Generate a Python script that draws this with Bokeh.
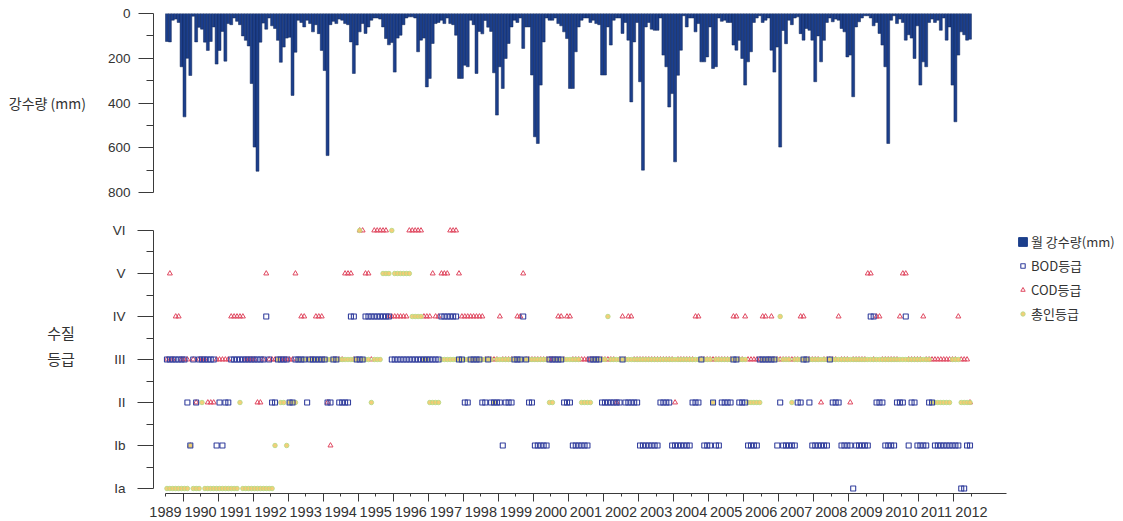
from bokeh.plotting import figure
from bokeh.layouts import column
from bokeh.models import Range1d, FixedTicker, Legend, LegendItem
from bokeh.embed import file_html
from bokeh.resources import INLINE

# ---------------- data ----------------
year_labels = [str(y) for y in range(1989, 2013)]
grade_labels = ["Ia", "Ib", "II", "III", "IV", "V", "VI"]   # levels 1..7

# monthly precipitation (mm), one row per year 1989..2011, Jan..Dec
rain_mm = [
    [125, 127, 30, 25, 40, 238, 462, 200, 277, 12, 127, 62],    # 1989
    [70, 128, 165, 125, 60, 226, 165, 80, 213, 45, 50, 20],     # 1990
    [35, 50, 100, 120, 145, 313, 597, 705, 128, 43, 70, 20],    # 1991
    [55, 67, 120, 218, 150, 110, 106, 366, 173, 30, 40, 60],    # 1992
    [30, 45, 82, 50, 90, 165, 255, 635, 50, 35, 45, 25],        # 1993
    [30, 45, 50, 127, 268, 141, 82, 45, 89, 60, 30, 20],        # 1994
    [20, 25, 60, 112, 140, 130, 262, 110, 97, 50, 20, 15],      # 1995
    [15, 20, 171, 119, 110, 328, 290, 134, 45, 40, 30, 45],     # 1996
    [20, 45, 50, 97, 290, 290, 231, 238, 30, 50, 268, 80],      # 1997
    [91, 31, 61, 80, 265, 454, 238, 335, 201, 134, 60, 30],     # 1998
    [40, 20, 156, 60, 60, 275, 551, 581, 320, 127, 20, 30],     # 1999
    [30, 20, 45, 55, 82, 112, 335, 335, 171, 60, 30, 20],       # 2000
    [20, 40, 30, 45, 50, 275, 275, 60, 141, 30, 20, 20],        # 2001
    [89, 40, 119, 395, 127, 40, 305, 700, 60, 40, 70, 75],      # 2002
    [75, 20, 186, 238, 418, 358, 663, 276, 164, 10, 60, 20],    # 2003
    [20, 82, 45, 216, 216, 194, 60, 246, 238, 20, 35, 30],      # 2004
    [40, 40, 141, 164, 120, 201, 320, 216, 171, 40, 20, 10],    # 2005
    [40, 30, 20, 164, 262, 150, 597, 76, 135, 30, 50, 20],      # 2006
    [15, 90, 119, 67, 75, 119, 305, 100, 216, 120, 40, 20],     # 2007
    [37, 25, 30, 67, 82, 194, 186, 372, 60, 37, 20, 10],        # 2008
    [10, 20, 55, 40, 89, 141, 238, 581, 30, 10, 45, 25],        # 2009
    [40, 119, 95, 110, 201, 55, 320, 216, 238, 40, 25, 40],     # 2010
    [30, 75, 20, 119, 60, 320, 484, 186, 82, 95, 119, 115],     # 2011
]

# water-quality grade level (1=Ia, 2=Ib, 3=II, 4=III, 5=IV, 6=V, 7=VI)
bod_grade = [
    [4, 4, 4, 4, 4, 4, 4, 3, 2, 4, 3, 4],   # 1989
    [4, 4, 4, 4, 4, 2, 3, 2, 3, 3, 4, 4],   # 1990
    [4, 4, 4, 4, 4, 4, 4, 4, 4, 4, 5, 4],   # 1991
    [3, 3, 4, 4, 4, 4, 3, 3, 4, 4, 4, 4],   # 1992
    [3, 4, 4, 4, 4, 4, 4, 3, 3, 4, 4, 3],   # 1993
    [3, 3, 3, 5, 5, 4, 4, 4, 5, 5, 5, 5],   # 1994
    [5, 5, 5, 5, 5, 4, 4, 4, 4, 4, 4, 4],   # 1995
    [4, 4, 4, 4, 4, 4, 4, 4, 4, 4, 5, 5],   # 1996
    [5, 5, 5, 5, 4, 4, 3, 3, 4, 4, 4, 4],   # 1997
    [3, 3, 4, 3, 3, 3, 3, 2, 3, 3, 3, 4],   # 1998
    [4, 4, 5, 4, 3, 3, 2, 2, 2, 2, 2, 4],   # 1999
    [4, 4, 4, 4, 3, 3, 3, 2, 2, 2, 2, 2],   # 2000
    [2, 4, 4, 4, 4, 3, 3, 3, 3, 3, 3, 3],   # 2001
    [4, 3, 3, 3, 3, 3, 2, 2, 2, 2, 2, 2],   # 2002
    [2, 3, 3, 3, 3, 2, 2, 2, 2, 2, 2, 2],   # 2003
    [3, 3, 3, 4, 2, 2, 2, 3, 2, 2, 3, 3],   # 2004
    [3, 3, 4, 4, 3, 3, 3, 2, 2, 2, 2, 4],   # 2005
    [4, 4, 4, 4, 4, 2, 3, 2, 2, 2, 2, 2],   # 2006
    [3, 3, 4, 4, 3, 2, 2, 2, 2, 2, 2, 4],   # 2007
    [3, 3, 3, 2, 2, 2, 2, 1, 2, 2, 2, 2],   # 2008
    [2, 5, 5, 3, 3, 3, 2, 2, 2, 2, 3, 3],   # 2009
    [3, 5, 2, 3, 3, 2, 2, 2, 2, 3, 3, 2],   # 2010
    [2, 2, 2, 2, 2, 2, 2, 2, 1, 1, 2, 2],   # 2011
]

cod_grade = [
    [4, 6, 4, 5, 5, 4, 4, 4, 2, 4, 3, 4],   # 1989
    [4, 4, 3, 3, 3, 4, 4, 4, 4, 4, 5, 5],   # 1990
    [5, 5, 5, 4, 4, 4, 4, 3, 3, 4, 6, 4],   # 1991
    [4, 4, 4, 4, 4, 4, 4, 4, 6, 4, 5, 5],   # 1992
    [4, 4, 4, 5, 5, 5, 4, 3, 2, 4, 4, 4],   # 1993
    [4, 6, 6, 6, 4, 4, 7, 7, 6, 6, 4, 7],   # 1994
    [7, 7, 7, 7, 5, 5, 5, 5, 5, 5, 5, 7],   # 1995
    [7, 7, 7, 7, 5, 5, 5, 6, 5, 5, 6, 6],   # 1996
    [6, 7, 7, 7, 6, 5, 5, 5, 5, 5, 5, 5],   # 1997
    [5, 4, 4, 4, 4, 4, 5, 4, 4, 4, 4, 4],   # 1998
    [5, 5, 6, 4, 4, 4, 4, 4, 4, 4, 4, 4],   # 1999
    [4, 4, 5, 5, 4, 5, 5, 4, 4, 4, 4, 4],   # 2000
    [4, 4, 4, 4, 4, 4, 4, 4, 4, 4, 3, 4],   # 2001
    [5, 4, 5, 5, 4, 4, 4, 4, 4, 4, 4, 4],   # 2002
    [4, 4, 4, 4, 4, 4, 3, 4, 4, 4, 4, 4],   # 2003
    [4, 5, 5, 4, 4, 4, 4, 4, 4, 4, 4, 4],   # 2004
    [4, 4, 5, 5, 4, 4, 5, 4, 4, 4, 4, 4],   # 2005
    [5, 5, 4, 5, 4, 4, 4, 4, 4, 4, 4, 4],   # 2006
    [4, 5, 5, 4, 4, 4, 4, 4, 3, 4, 4, 4],   # 2007
    [4, 4, 5, 4, 4, 4, 3, 4, 4, 4, 4, 4],   # 2008
    [6, 6, 4, 5, 5, 4, 4, 4, 4, 4, 4, 5],   # 2009
    [6, 6, 4, 4, 4, 4, 4, 5, 4, 4, 4, 4],   # 2010
    [4, 4, 4, 4, 4, 4, 4, 5, 4, 4, 4, 3],   # 2011
]

tp_grade = [
    [1, 1, 1, 1, 1, 1, 1, 1, 2, 1, 1, 1],   # 1989
    [3, 1, 1, 1, 1, 1, 1, 1, 1, 1, 1, 1],   # 1990
    [1, 3, 1, 1, 1, 1, 1, 1, 1, 1, 1, 1],   # 1991
    [1, 2, 4, 3, 3, 2, 3, 3, 3, 4, 4, 4],   # 1992
    [4, 4, 4, 4, 4, 4, 4, 4, 4, 4, 4, 4],   # 1993
    [4, 4, 4, 4, 4, 4, 7, 4, 4, 4, 3, 4],   # 1994
    [4, 4, 6, 6, 6, 7, 6, 6, 6, 6, 6, 6],   # 1995
    [5, 5, 5, 5, 4, 4, 3, 3, 3, 3, 4, 4],   # 1996
    [4, 4, 4, 4, 4, 4, 4, 4, 4, 4, 4, 4],   # 1997
    [4, 4, 4, 4, 3, 4, 4, 4, 4, 4, 4, 4],   # 1998
    [4, 4, 4, 4, 4, 4, 4, 4, 4, 4, 4, 3],   # 1999
    [3, 4, 4, 4, 4, 4, 4, 4, 4, 4, 3, 3],   # 2000
    [3, 3, 4, 4, 4, 4, 4, 5, 4, 4, 4, 4],   # 2001
    [4, 4, 4, 4, 4, 4, 4, 4, 4, 4, 4, 4],   # 2002
    [4, 4, 4, 4, 4, 4, 4, 4, 4, 4, 4, 4],   # 2003
    [4, 4, 4, 4, 4, 4, 4, 3, 4, 4, 4, 4],   # 2004
    [4, 4, 4, 4, 4, 4, 4, 3, 3, 3, 3, 3],   # 2005
    [4, 4, 4, 4, 4, 4, 5, 4, 4, 4, 3, 4],   # 2006
    [4, 4, 4, 4, 4, 4, 4, 4, 4, 4, 4, 4],   # 2007
    [4, 4, 4, 4, 4, 4, 4, 4, 4, 4, 4, 4],   # 2008
    [4, 4, 4, 4, 4, 4, 4, 4, 4, 4, 4, 4],   # 2009
    [4, 4, 4, 4, 4, 4, 4, 4, 4, 4, 3, 3],   # 2010
    [3, 3, 3, 3, 3, 4, 4, 4, 3, 3, 3, 3],   # 2011
]


def flatten(rows):
    xs, vs = [], []
    for yi, row in enumerate(rows):
        for mi, v in enumerate(row):
            xs.append(yi * 12 + mi + 0.5)
            vs.append(v)
    return xs, vs


mx, rain = flatten(rain_mm)
bx, bod = flatten(bod_grade)
cx, cod = flatten(cod_grade)
tx, tp = flatten(tp_grade)
NAN = float("nan")

# ---------------- style ----------------
FONT = "Liberation Sans"
KFONT = "Noto Sans CJK KR"
AX = "#3a3a3a"
TXT = "#333333"
BAR = "#1C3F8C"
BAR_LINE = "#0E2556"
BOD_C = "#34409E"
COD_C = "#E0475F"
TP_FILL = "#F4C96A"
TP_LINE = "#B8DA86"

W = 1123
LEFT = 153
RIGHT = 5
FRAME_W = W - LEFT - RIGHT
PX_PER_MONTH = 841 / 288
x0 = -12 / PX_PER_MONTH
xr = Range1d(x0, x0 + FRAME_W / PX_PER_MONTH)

# ---------------- top: precipitation ----------------
p1 = figure(width=W, height=202, x_range=xr, y_range=Range1d(800, 0),
            output_backend="svg", toolbar_location=None, x_axis_location=None,
            min_border_left=LEFT, min_border_right=RIGHT,
            min_border_top=13, min_border_bottom=10)
p1.vbar(x=mx, top=rain, bottom=0, width=1.0, fill_color=BAR,
        line_color=BAR_LINE, line_width=0.5)
p1.yaxis.ticker = FixedTicker(ticks=[0, 200, 400, 600, 800], minor_ticks=[100, 300, 500, 700])
p1.yaxis.bounds = (0, 800)
p1.yaxis.axis_label = "강수량 (mm)"
p1.yaxis.axis_label_standoff = 19
p1.yaxis.axis_label_text_font_size = "14px"

# ---------------- bottom: water-quality grades ----------------
p2 = figure(width=W, height=319, x_range=xr, y_range=Range1d(0.884, 7.186),
            output_backend="svg", toolbar_location=None,
            min_border_left=LEFT, min_border_right=RIGHT,
            min_border_top=20, min_border_bottom=28)

r_bar = p2.vbar(x=[NAN], top=[NAN], width=1, fill_color=BAR, line_color=BAR)
r_cod = p2.scatter(x=cx, y=cod, marker="triangle", size=5, fill_alpha=0,
                   line_color=COD_C, line_width=1)
r_tp = p2.scatter(x=tx, y=tp, marker="circle", size=4.5, fill_color=TP_FILL,
                  line_color=TP_LINE, line_width=1, alpha=0.9)
r_bod = p2.scatter(x=bx, y=bod, marker="square", size=5, fill_alpha=0,
                   line_color=BOD_C, line_width=1.1)

p2.yaxis.ticker = FixedTicker(ticks=[1, 2, 3, 4, 5, 6, 7],
                              minor_ticks=[1.5, 2.5, 3.5, 4.5, 5.5, 6.5])
p2.yaxis.major_label_overrides = {i + 1: lab for i, lab in enumerate(grade_labels)}
p2.yaxis.bounds = (1, 7)
p2.yaxis.axis_label = "수질\n등급\n "
p2.yaxis.axis_label_standoff = 35
p2.yaxis.axis_label_text_font_size = "15px"

year_ticks = [12 * k for k in range(len(year_labels))]
p2.xaxis.ticker = FixedTicker(ticks=year_ticks, minor_ticks=[t + 6 for t in year_ticks[:-1]])
p2.xaxis.major_label_overrides = {t: lab for t, lab in zip(year_ticks, year_labels)}
p2.xaxis.bounds = (0, 288)

for p in (p1, p2):
    p.grid.visible = False
    p.outline_line_color = None
    p.background_fill_color = "white"
    p.border_fill_color = "white"
    for ax in p.axis:
        ax.axis_line_color = AX
        ax.major_tick_line_color = AX
        ax.minor_tick_line_color = AX
        ax.major_label_text_font = FONT
        ax.major_label_text_color = TXT

for ax in (p1.yaxis[0], p2.yaxis[0]):
    ax.major_tick_in = 0
    ax.minor_tick_in = 0
    ax.minor_tick_out = 7
    ax.major_label_text_font_size = "13.5px"
    ax.axis_label_orientation = "horizontal"
    ax.axis_label_text_font = KFONT
    ax.axis_label_text_font_style = "normal"
    ax.axis_label_text_color = TXT

p1.yaxis.major_tick_out = 15
p1.yaxis.major_label_standoff = 8
p2.yaxis.major_tick_out = 16
p2.yaxis.major_label_standoff = 12

p2.xaxis.major_tick_in = 0
p2.xaxis.minor_tick_in = 0
p2.xaxis.major_tick_out = 3
p2.xaxis.minor_tick_out = 8
p2.xaxis.major_label_standoff = 5
p2.xaxis.major_label_text_font_size = "14.5px"

legend = Legend(items=[
    LegendItem(label="월 강수량(mm)", renderers=[r_bar]),
    LegendItem(label="BOD등급", renderers=[r_bod]),
    LegendItem(label="COD등급", renderers=[r_cod]),
    LegendItem(label="총인등급", renderers=[r_tp]),
], location=(864, 170), glyph_width=11, glyph_height=11, label_standoff=3,
    spacing=4, padding=0, margin=0, border_line_color=None,
    background_fill_alpha=0, label_text_font=KFONT, label_text_font_size="13px",
    label_text_color=TXT, label_height=20)
p2.add_layout(legend, "center")

layout = column(p1, p2, spacing=0)
open("out.html", "w").write(file_html(layout, INLINE))
